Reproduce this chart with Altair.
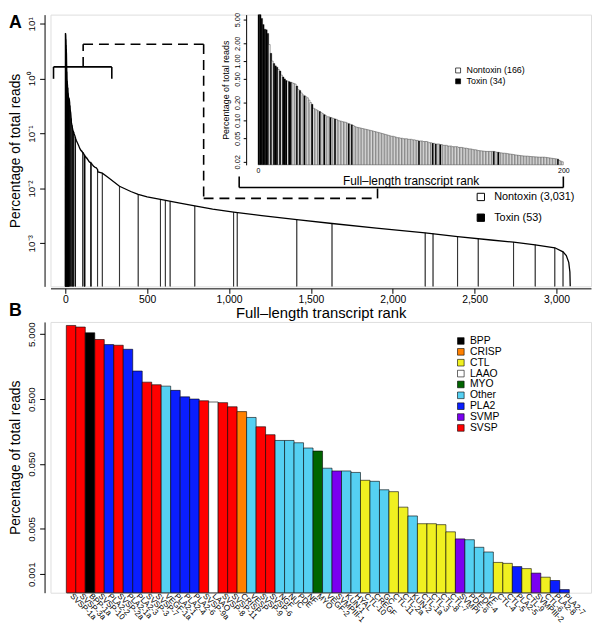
import altair as alt
import pandas as pd

FONT = "Liberation Sans"

# ---------------- Panel A: top-200 transcripts (inset) ----------------
inset_pct = [6.8, 6.43, 5.24, 4.13, 3.45, 3.37, 2.92, 1.9, 1.35, 1.0,
             0.91, 0.83, 0.79, 0.72, 0.68, 0.58, 0.54, 0.50, 0.47, 0.46,
             0.45, 0.44, 0.43, 0.42, 0.41, 0.38, 0.33, 0.32, 0.29, 0.27,
             0.26, 0.25, 0.24, 0.22, 0.20, 0.187, 0.16, 0.155, 0.15, 0.145,
             0.141, 0.135, 0.13, 0.125, 0.12, 0.115, 0.115, 0.112, 0.11, 0.108,
             0.106, 0.104, 0.10, 0.098, 0.097, 0.095, 0.094, 0.093, 0.09, 0.088,
             0.086, 0.084, 0.082, 0.079, 0.077, 0.076, 0.075, 0.074, 0.073, 0.072,
             0.071, 0.070, 0.069, 0.068, 0.067, 0.066, 0.065, 0.064, 0.063, 0.062,
             0.061, 0.060, 0.059, 0.058, 0.057, 0.056, 0.055, 0.054, 0.054, 0.053,
             0.052, 0.051, 0.051, 0.050, 0.050, 0.049, 0.049, 0.049, 0.048, 0.048,
             0.048, 0.047, 0.047, 0.046, 0.046, 0.045, 0.045, 0.045, 0.044, 0.044,
             0.044, 0.043, 0.042, 0.042, 0.041, 0.041, 0.040, 0.040, 0.040, 0.039,
             0.039, 0.038, 0.038, 0.038, 0.037, 0.037, 0.037, 0.036, 0.036, 0.036,
             0.036, 0.035, 0.035, 0.035, 0.0345, 0.034, 0.034, 0.0335, 0.033, 0.033,
             0.0325, 0.032, 0.032, 0.0315, 0.031, 0.0308, 0.0306, 0.0304, 0.0302, 0.030,
             0.030, 0.030, 0.030, 0.030, 0.030, 0.0295, 0.029, 0.029, 0.0285, 0.0283,
             0.028, 0.028, 0.0278, 0.0275, 0.0272, 0.027, 0.0268, 0.0265, 0.0262, 0.026,
             0.0258, 0.0256, 0.0254, 0.0252, 0.0251, 0.025, 0.025, 0.0248, 0.0246, 0.0245,
             0.0244, 0.0243, 0.0242, 0.0241, 0.024, 0.024, 0.024, 0.024, 0.0238, 0.0236,
             0.0234, 0.0232, 0.023, 0.0228, 0.0226, 0.0224, 0.0222, 0.021, 0.0205, 0.020]
inset_toxin_ranks = [1, 2, 3, 4, 5, 6, 7, 9, 11, 12, 13, 15, 17, 18, 19, 21, 22, 26, 28,
                     31, 36, 41, 44, 48, 51, 60, 62, 106, 115, 117, 120, 155, 158, 197]

# ---------------- Panel A: full curve beyond rank 200 ----------------
tail_ranks = [226, 260, 331, 400, 445, 500, 581, 700, 791, 900, 1028, 1200, 1414,
              1629, 1900, 2198, 2396, 2600, 2738, 2870, 2990, 3040, 3060, 3075, 3082, 3084]
tail_pct = [0.019, 0.016, 0.011, 0.0088, 0.0078, 0.007, 0.0063, 0.0054, 0.0048, 0.0042,
            0.0037, 0.0032, 0.0027, 0.0023, 0.0019, 0.00155, 0.00132, 0.00115, 0.00105,
            0.00094, 0.00083, 0.0007, 0.0006, 0.00045, 0.0003, 0.000165]
tail_toxin_ranks = [226, 331, 445, 581, 611, 640, 791, 1028, 1050, 1414, 1629, 2198,
                    2246, 2396, 2522, 2738, 2870, 2990, 3040]
tail_toxin_pct = [0.019, 0.011, 0.0078, 0.0063, 0.006, 0.0058, 0.0048, 0.0037, 0.0036,
                  0.0027, 0.0023, 0.00155, 0.0015, 0.00132, 0.0012, 0.00105, 0.00094,
                  0.00083, 0.0007]

# bracket / dashed connector, in (rank, percentage) units of the main panel
seg_x1 = [-72, -72, 284, 1062, 1062, 3042, 109, 109, 845, 845, 1907]
seg_x2 = [284, -72, 284, 3042, 1062, 3042, 109, 845, 845, 1907, 1907]
seg_y1 = [1.65, 1.65, 1.65, 0.0104, 0.0104, 0.0104, 1.65, 4.27, 4.27, 0.0066, 0.0066]
seg_y2 = [1.65, 1.0, 1.0, 0.0104, 0.0165, 0.0165, 4.27, 4.27, 0.0066, 0.0066, 0.0104]
seg_style = ["solid"] * 6 + ["dashed"] * 5

# ---------------- Panel B: the 53 toxins ----------------
toxin_names = ["SVSP-1a", "SVSP-3a", "BPP-1a", "SVSP-10", "PLA2-2", "SVSP-2a", "PLA2-1a",
               "PLA2-3", "SVSP-3", "SVSP-7", "VEGF-1a", "PLA2-1", "PLA2-4", "PLA2-6",
               "SVSP-9a", "LAAO", "SVSP-8", "SVSP-11", "CRISP", "VESP", "SVSP-9", "SVSP-6",
               "NGF", "NUC", "PDE", "NF", "MYO", "VEGF-2", "SVMPIII-1", "KUN-1", "HYAL",
               "CTL-10", "CREGF", "GC", "CTL-11", "CTL-2a", "KUN-2", "CTL-1a", "CTL-3",
               "CTL-8", "CTL-7", "SVMPI", "PDE-6", "PDE-4", "VF", "CTL-4", "CTL-5",
               "PLA2-5", "CTL-9", "SVMPIII-2", "CTL-6", "PLA2-8", "PLA2-7"]
toxin_family = ["SVSP", "SVSP", "BPP", "SVSP", "PLA2", "SVSP", "PLA2", "PLA2", "SVSP", "SVSP",
                "Other", "PLA2", "PLA2", "PLA2", "SVSP", "LAAO", "SVSP", "SVSP", "CRISP", "Other",
                "SVSP", "SVSP", "Other", "Other", "Other", "Other", "MYO", "Other", "SVMP", "Other",
                "Other", "CTL", "Other", "Other", "CTL", "CTL", "Other", "CTL", "CTL", "CTL",
                "CTL", "SVMP", "Other", "Other", "Other", "CTL", "CTL", "PLA2", "CTL", "SVMP",
                "CTL", "PLA2", "PLA2"]
toxin_pct = [6.8, 6.43, 5.24, 4.13, 3.45, 3.37, 2.92, 1.35, 0.91, 0.83,
             0.79, 0.68, 0.54, 0.50, 0.47, 0.45, 0.44, 0.38, 0.32, 0.26,
             0.187, 0.141, 0.115, 0.115, 0.106, 0.088, 0.079, 0.043, 0.039, 0.039,
             0.037, 0.028, 0.027, 0.020, 0.0187, 0.0108, 0.0079, 0.0060, 0.0060, 0.0058,
             0.0045, 0.0035, 0.0034, 0.0026, 0.0022, 0.00152, 0.00147, 0.00131, 0.00122, 0.00104,
             0.00090, 0.0008, 0.00058]
family_order = ["BPP", "CRISP", "CTL", "LAAO", "MYO", "Other", "PLA2", "SVMP", "SVSP"]
family_colors = ["#000000", "#FF8000", "#F0F020", "#FFFFFF", "#006400", "#55D0F2",
                 "#0A1EFF", "#7A00F0", "#FF0000"]

# ---------------- tables ----------------
A_W, A_H = 547, 275
B_W, B_H = 547, 274
A_BASE = 0.000164
IN_BASE = 0.0178
B_BASE = 0.000519

curve_df = pd.DataFrame({
    "rank": [0] + list(range(1, len(inset_pct) + 1)) + tail_ranks,
    "pct": [A_BASE] + inset_pct + tail_pct,
})
main_tox_ranks = inset_toxin_ranks + tail_toxin_ranks
main_tox_pct = [inset_pct[r - 1] for r in inset_toxin_ranks] + tail_toxin_pct
tox_df = pd.DataFrame({
    "r0": [r - 0.5 for r in main_tox_ranks],
    "r1": [r + 0.5 for r in main_tox_ranks],
    "pct": main_tox_pct,
    "base": A_BASE,
    "kind": "Toxin (53)",
})
inset_df = pd.DataFrame({
    "r0": list(range(0, len(inset_pct))),
    "r1": list(range(1, len(inset_pct) + 1)),
    "pct": inset_pct,
    "base": IN_BASE,
    "kind": ["Toxin (34)" if (i + 1) in inset_toxin_ranks else "Nontoxin (166)"
             for i in range(len(inset_pct))],
})
seg_df = pd.DataFrame({"xa": seg_x1, "xb": seg_x2, "ya": seg_y1, "yb": seg_y2, "style": seg_style})
b_df = pd.DataFrame({"name": toxin_names, "family": toxin_family, "pct": toxin_pct, "base": B_BASE})

# ---------------- Panel A ----------------
x_main = alt.Scale(domain=[-90.5, 3211], nice=False, zero=False)
y_main = alt.Scale(type="log", domain=[A_BASE, 14.8], nice=False, clamp=True)
sup = "datum.value > 5 ? '10\u00b9' : datum.value > 0.5 ? '10\u2070' : datum.value > 0.05 ? '10\u207b\u00b9' : datum.value > 0.005 ? '10\u207b\u00b2' : '10\u207b\u00b3'"
x_axis_main = alt.Axis(values=[0, 500, 1000, 1500, 2000, 2500, 3000], format=",d",
                       title="Full\u2013length transcript rank", titleFontSize=15,
                       titleFontWeight="normal", labelFontSize=10.5, offset=2, tickSize=5,
                       labelPadding=1, labelFlush=False, grid=False, titlePadding=1)
y_axis_main = alt.Axis(values=[10, 1, 0.1, 0.01, 0.001], labelExpr=sup, labelAngle=-90,
                       labelAlign="center", labelBaseline="bottom", labelFontSize=10,
                       title="Percentage of total reads", titleFontSize=14,
                       titleFontWeight="normal", offset=6, tickSize=5, grid=False,
                       labelPadding=3, titlePadding=4)

curve = alt.Chart(curve_df).mark_line(color="black", strokeWidth=1.3).encode(
    x=alt.X("rank:Q", scale=x_main, axis=x_axis_main),
    y=alt.Y("pct:Q", scale=y_main, axis=y_axis_main),
)
tox_bars = alt.Chart(tox_df).mark_bar(stroke="black", strokeWidth=0.55).encode(
    x=alt.X("r0:Q", scale=x_main, axis=x_axis_main),
    x2="r1:Q",
    y=alt.Y("pct:Q", scale=y_main, axis=y_axis_main),
    y2="base:Q",
    color=alt.Color("kind:N",
                    scale=alt.Scale(domain=["Nontoxin (3,031)", "Toxin (53)"], range=["white", "black"]),
                    legend=alt.Legend(title=None, orient="none", legendX=430, legendY=179,
                                      symbolType="square", symbolSize=55,
                                      symbolStrokeColor="black", symbolStrokeWidth=1,
                                      labelFontSize=11, labelOffset=8, rowPadding=8, padding=0)),
)
seg_solid = alt.Chart(seg_df).transform_filter("datum.style == 'solid'").mark_rule(
    color="black", strokeWidth=1.6).encode(
    x=alt.X("xa:Q", scale=x_main, axis=x_axis_main), x2="xb:Q",
    y=alt.Y("ya:Q", scale=y_main, axis=y_axis_main), y2="yb:Q")
seg_dash = alt.Chart(seg_df).transform_filter("datum.style == 'dashed'").mark_rule(
    color="black", strokeWidth=1.6, strokeDash=[10, 6]).encode(
    x=alt.X("xa:Q", scale=x_main, axis=x_axis_main), x2="xb:Q",
    y=alt.Y("ya:Q", scale=y_main, axis=y_axis_main), y2="yb:Q")
letters_df = pd.DataFrame({"t": ["A", "B"]})
letter_a = alt.Chart(letters_df).transform_filter("datum.t == 'A'").mark_text(
    fontSize=18, fontWeight="bold", align="left", baseline="middle", font=FONT).encode(
    text="t:N", x=alt.value(-42), y=alt.value(9))
letter_b = alt.Chart(letters_df).transform_filter("datum.t == 'B'").mark_text(
    fontSize=18, fontWeight="bold", align="left", baseline="middle", font=FONT).encode(
    text="t:N", x=alt.value(-42), y=alt.value(300))

main_layer = alt.layer(curve, tox_bars, seg_solid, seg_dash, letter_a, letter_b)

x_in = alt.Scale(domain=[0, 200], range=[210, 519], nice=False, zero=False)
y_in = alt.Scale(type="log", domain=[IN_BASE, 6.07], range=[152, 0], nice=False, clamp=True)
inset = alt.Chart(inset_df).mark_bar(stroke="black", strokeWidth=0.35).encode(
    x=alt.X("r0:Q", scale=x_in,
            axis=alt.Axis(orient="bottom", offset=-122, values=[0, 200], ticks=False, domain=False,
                          labelFontSize=7, labelPadding=1, labelFlush=False, grid=False,
                          title="Full\u2013length transcript rank", titleFontSize=12,
                          titleFontWeight="normal", titlePadding=2)),
    x2="r1:Q",
    y=alt.Y("pct:Q", scale=y_in,
            axis=alt.Axis(orient="left", offset=-198, values=[0.02, 0.05, 0.1, 0.2, 0.5, 1, 2, 5],
                          format=".2f", labelAngle=-90, labelAlign="center", labelBaseline="bottom",
                          labelFontSize=7.5, tickSize=3, labelPadding=2, grid=False,
                          title="Percentage of total reads", titleFontSize=9,
                          titleFontWeight="normal", titlePadding=3)),
    y2="base:Q",
    color=alt.Color("kind:N",
                    scale=alt.Scale(domain=["Nontoxin (166)", "Toxin (34)"], range=["white", "black"]),
                    legend=alt.Legend(title=None, orient="none", legendX=408, legendY=52,
                                      symbolType="square", symbolSize=25,
                                      symbolStrokeColor="black", symbolStrokeWidth=0.7,
                                      labelFontSize=9, rowPadding=1, padding=0)),
)

panel_a = alt.layer(main_layer, inset).resolve_scale(
    x="independent", y="independent", color="independent"
).properties(width=A_W, height=A_H)

# ---------------- Panel B ----------------
panel_b = alt.Chart(b_df).mark_bar(stroke="black", strokeWidth=0.6).encode(
    x=alt.X("name:N", sort=toxin_names,
            scale=alt.Scale(paddingInner=0, paddingOuter=0, range=[16, 525]),
            axis=alt.Axis(title=None, labelAngle=45, labelAlign="left", labelBaseline="middle",
                          labelFontSize=8.2, ticks=False, domainColor="#999999", labelPadding=2,
                          labelOverlap=False, labelBound=False)),
    y=alt.Y("pct:Q",
            scale=alt.Scale(type="log", domain=[B_BASE, 7.7], nice=False, clamp=True),
            axis=alt.Axis(values=[5, 0.5, 0.05, 0.005, 0.001], format=".3f", labelAngle=-90,
                          labelAlign="center", labelBaseline="bottom", labelFontSize=10,
                          title="Percentage of total reads", titleFontSize=14,
                          titleFontWeight="normal", offset=6, tickSize=5, grid=False,
                          labelPadding=3, titlePadding=4)),
    y2="base:Q",
    color=alt.Color("family:N", scale=alt.Scale(domain=family_order, range=family_colors),
                    legend=alt.Legend(title=None, orient="none", legendX=410, legendY=14,
                                      symbolType="square", symbolSize=45,
                                      symbolStrokeColor="black", symbolStrokeWidth=0.6,
                                      labelFontSize=10.5, rowPadding=0, padding=0)),
).properties(width=B_W, height=B_H)

chart = alt.vconcat(panel_a, panel_b, spacing=0).resolve_scale(color="independent").properties(
    padding=0
).configure_view(stroke=None).configure(font=FONT).configure_axis(
    labelFont=FONT, titleFont=FONT, labelColor="black", titleColor="black",
    domainColor="black", tickColor="black").configure_legend(labelFont=FONT, labelColor="black")

chart.save("out.html", embed_options={"renderer": "svg", "actions": False})
